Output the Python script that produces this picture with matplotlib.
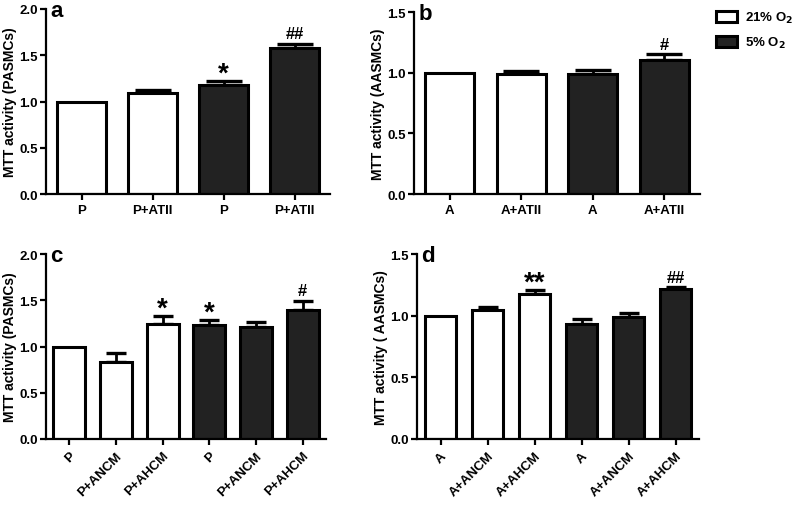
import matplotlib
matplotlib.use("Agg")
import matplotlib.pyplot as plt
from matplotlib.patches import Patch

plt.rcParams['font.family'] = ['Liberation Sans', 'DejaVu Sans']
plt.rcParams['font.weight'] = 'bold'

# panel a: PASMCs + ATII
labels_a = ['P', 'P+ATII', 'P', 'P+ATII']
values_a = [1.00, 1.09, 1.18, 1.58]
errors_a = [0.0, 0.035, 0.04, 0.045]
marks_a = ['', '', '*', '##']

# panel b: AASMCs + ATII
labels_b = ['A', 'A+ATII', 'A', 'A+ATII']
values_b = [1.00, 0.985, 0.99, 1.105]
errors_b = [0.0, 0.03, 0.03, 0.045]
marks_b = ['', '', '', '#']

# panel c: PASMCs + conditioned media
labels_c = ['P', 'P+ANCM', 'P+AHCM', 'P', 'P+ANCM', 'P+AHCM']
values_c = [1.00, 0.83, 1.245, 1.23, 1.21, 1.40]
errors_c = [0.0, 0.10, 0.08, 0.06, 0.05, 0.09]
marks_c = ['', '', '*', '*', '', '#']

# panel d: AASMCs + conditioned media
labels_d = ['A', 'A+ANCM', 'A+AHCM', 'A', 'A+ANCM', 'A+AHCM']
values_d = [1.00, 1.045, 1.175, 0.93, 0.99, 1.22]
errors_d = [0.0, 0.025, 0.03, 0.04, 0.035, 0.01]
marks_d = ['', '', '**', '', '', '##']

WHITE = '#ffffff'
DARK = '#222222'
W, H = 797, 506


def draw_panel(ax, letter, labels, values, errors, marks, ymax, ylabel,
               capsize, rotate):
    n = len(values)
    x = list(range(n))
    colors = [WHITE] * (n // 2) + [DARK] * (n // 2)
    ax.bar(x, values, width=0.68, color=colors, edgecolor='black',
           linewidth=2.2, zorder=2)
    # control bars are normalised to 1 and have no error bar
    ex = [xi for xi, e in zip(x, errors) if e > 0]
    ev = [v for v, e in zip(values, errors) if e > 0]
    ee = [e for e in errors if e > 0]
    ax.errorbar(ex, ev, yerr=[[0] * len(ee), ee], fmt='none',
                ecolor='black', elinewidth=2, capsize=capsize, capthick=2.4,
                zorder=1)
    for xi, v, e, m in zip(x, values, errors, marks):
        if not m:
            continue
        if '*' in m:
            ax.annotate(m, (xi, v + e), xytext=(0, -4),
                        textcoords='offset points', ha='center',
                        va='bottom', fontsize=20, fontweight='bold')
        else:
            ax.annotate(m, (xi, v + e), xytext=(0, 2),
                        textcoords='offset points', ha='center',
                        va='bottom', fontsize=12, fontweight='bold')

    ax.set_xlim(-0.5, n - 0.5)
    ax.set_ylim(0, ymax)
    ax.set_yticks([i * 0.5 for i in range(int(ymax / 0.5) + 1)])
    ax.set_yticklabels([f'{t:.1f}' for t in ax.get_yticks()],
                       fontsize=9.5, fontweight='bold')
    ax.set_xticks(x)
    if rotate:
        ax.set_xticklabels(labels, rotation=45, ha='right',
                           rotation_mode='anchor', fontsize=9.5,
                           fontweight='bold')
    else:
        ax.set_xticklabels(labels, fontsize=9.5, fontweight='bold')
    ax.set_ylabel(ylabel, fontsize=10, fontweight='bold', labelpad=1.5)
    for side in ['top', 'right']:
        ax.spines[side].set_visible(False)
    for side in ['left', 'bottom']:
        ax.spines[side].set_linewidth(1.6)
    ax.tick_params(axis='y', width=1.6, length=4.5, pad=1.5)
    ax.tick_params(axis='x', width=1.6, length=4.5, pad=3)
    ax.annotate(letter, (0, 1), xycoords='axes fraction', xytext=(3, -5),
                textcoords='offset points', ha='left', va='baseline',
                fontsize=16, fontweight='bold')


def box(l, r, t, b):
    return [l / W, 1 - b / H, (r - l) / W, (b - t) / H]


fig = plt.figure(figsize=(W / 100, H / 100), dpi=100)
ax_a = fig.add_axes(box(46, 330, 10, 195))
ax_b = fig.add_axes(box(414, 700, 13, 195))
ax_c = fig.add_axes(box(46, 326, 255, 440))
ax_d = fig.add_axes(box(417, 699, 255, 440))

draw_panel(ax_a, 'a', labels_a, values_a, errors_a, marks_a, 2.0,
           'MTT activity (PASMCs)', 13, False)
draw_panel(ax_b, 'b', labels_b, values_b, errors_b, marks_b, 1.5,
           'MTT activity (AASMCs)', 13, False)
draw_panel(ax_c, 'c', labels_c, values_c, errors_c, marks_c, 2.0,
           'MTT activity (PASMCs)', 7, True)
draw_panel(ax_d, 'd', labels_d, values_d, errors_d, marks_d, 1.5,
           'MTT activity ( AASMCs)', 7, True)

handles = [Patch(facecolor=WHITE, edgecolor='black', linewidth=2.2),
           Patch(facecolor=DARK, edgecolor='black', linewidth=2.2)]
fig.legend(handles, ['21% O$_2$', '5% O$_2$'], loc='upper left',
           bbox_to_anchor=(716 / W, 1 - 11 / H), frameon=False,
           borderpad=0, borderaxespad=0, handlelength=1.6,
           handleheight=0.95, handletextpad=0.6, labelspacing=0.75,
           prop={'size': 9.5, 'weight': 'bold'})

fig.savefig('out.png', dpi=100)
